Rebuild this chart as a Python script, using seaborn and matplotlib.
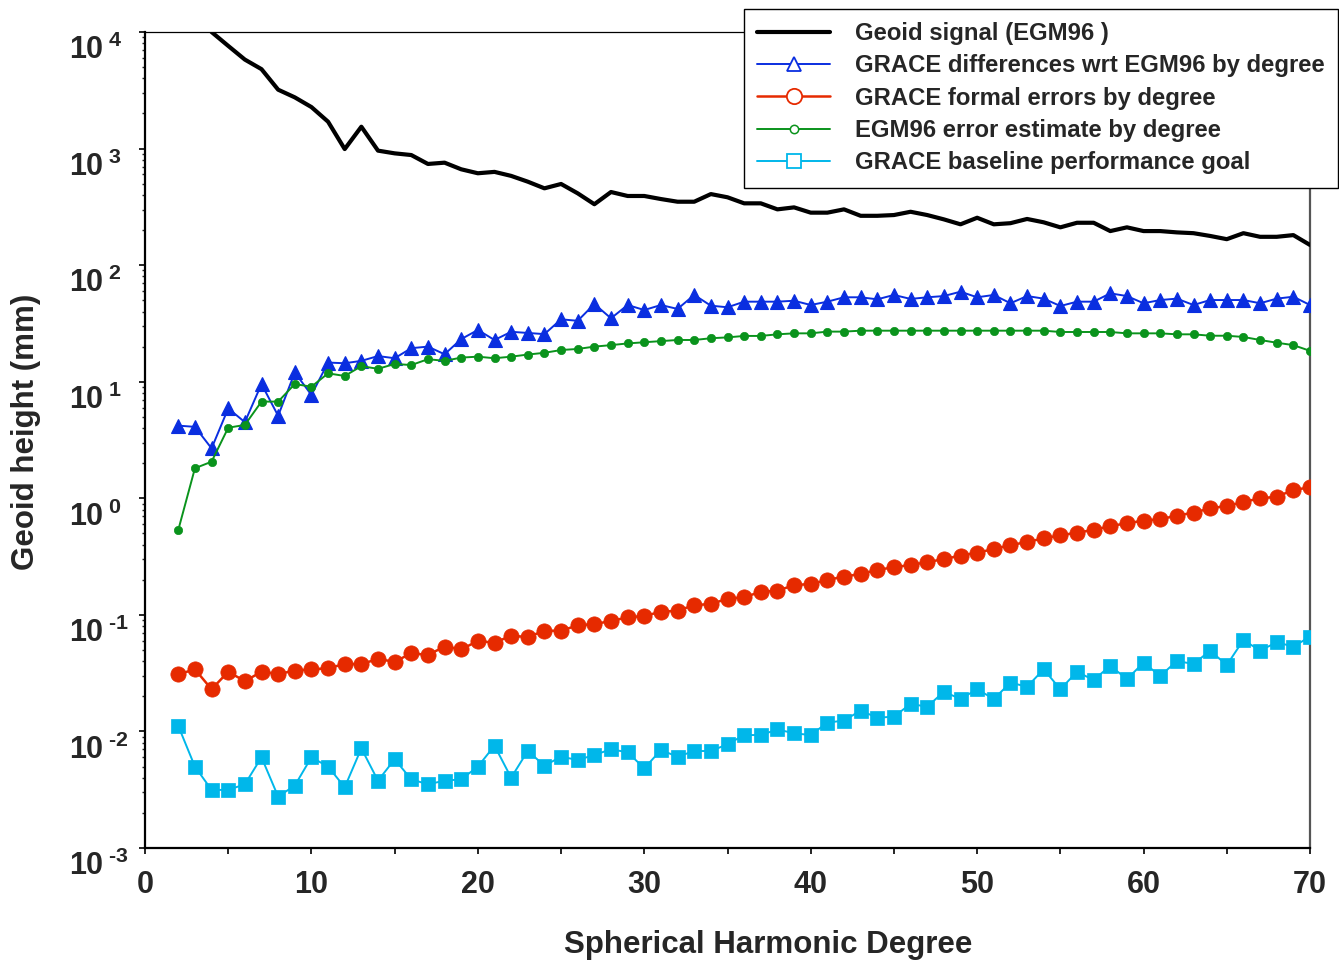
import numpy as np
import pandas as pd
import matplotlib
matplotlib.use("Agg")
import matplotlib.pyplot as plt
import matplotlib.transforms as mtransforms
from matplotlib.ticker import FixedLocator, LogLocator, NullFormatter, FuncFormatter
from matplotlib.lines import Line2D
import seaborn as sns

# spherical harmonic degree 2..70
degree = np.arange(2, 71)

geoid_signal = [
    30000, 18000, 10000, 7600, 5800, 4800, 3200, 2750, 2270,
    1700, 990, 1540, 960, 910, 880, 738, 757, 664, 614,
    631, 583, 520, 456, 497, 413, 333, 424, 392, 392,
    369, 350, 350, 407, 382, 339, 339, 301, 313, 282,
    282, 301, 265, 265, 269, 287, 269, 247, 224, 255,
    224, 229, 249, 233, 211, 231, 231, 196, 211, 196,
    196, 191, 188, 178, 167, 188, 175, 175, 181, 149,
]
grace_diff = [
    4.2, 4.1, 2.68, 5.9, 4.5, 9.55, 5.1, 12.0, 7.7,
    14.6, 14.4, 15.1, 16.6, 15.9, 19.4, 20.0, 17.2, 23.2, 27.8,
    22.8, 26.8, 26.2, 25.6, 34.3, 33.3, 46.4, 35.0, 45.5, 41.2,
    45.5, 42.1, 55.5, 44.9, 43.5, 48.6, 48.6, 48.6, 49.5, 45.5,
    48.6, 53.0, 53.0, 50.9, 55.5, 51.3, 53.0, 54.3, 59.2, 53.0,
    55.5, 47.1, 54.3, 51.6, 44.6, 48.6, 48.6, 57.3, 54.3, 47.1,
    50.2, 51.6, 45.5, 50.2, 50.2, 50.2, 47.1, 51.6, 53.6, 45.5,
]
grace_formal = [
    0.0309, 0.0341, 0.0230, 0.0325, 0.0270, 0.0325, 0.0311, 0.0332, 0.0341,
    0.0348, 0.0379, 0.0379, 0.0418, 0.0396, 0.0468, 0.0453, 0.0534, 0.0506, 0.0597,
    0.0577, 0.0662, 0.0645, 0.0731, 0.0731, 0.0813, 0.0834, 0.0885, 0.0953, 0.0977,
    0.1064, 0.1085, 0.1213, 0.1238, 0.1376, 0.1414, 0.158, 0.161, 0.180, 0.184,
    0.199, 0.213, 0.224, 0.243, 0.256, 0.268, 0.283, 0.301, 0.322, 0.341,
    0.367, 0.397, 0.421, 0.454, 0.481, 0.507, 0.535, 0.578, 0.610, 0.643,
    0.661, 0.710, 0.752, 0.820, 0.859, 0.929, 1.0, 1.03, 1.18, 1.24,
]
egm96_error = [
    0.535, 1.81, 2.06, 4.03, 4.26, 6.75, 6.75, 9.55, 9.06,
    11.8, 11.2, 13.6, 12.9, 14.2, 13.9, 15.6, 15.1, 16.1, 16.4,
    15.9, 16.4, 17.1, 17.7, 18.7, 19.1, 20.0, 20.6, 21.3, 21.8,
    22.3, 22.8, 22.8, 23.6, 24.0, 24.7, 24.7, 25.5, 26.0, 26.0,
    26.9, 26.9, 27.4, 27.4, 27.4, 27.4, 27.4, 27.4, 27.4, 27.4,
    27.4, 27.4, 27.4, 27.4, 26.7, 26.7, 26.7, 26.7, 26.0, 26.0,
    26.0, 25.5, 25.5, 24.8, 24.8, 24.2, 22.8, 21.6, 20.6, 18.4,
]
baseline_goal = [
    0.01114, 0.00499, 0.00315, 0.00315, 0.00352, 0.0060, 0.00276, 0.00343, 0.0060,
    0.00499, 0.00332, 0.00716, 0.00378, 0.00577, 0.00388, 0.00352, 0.00378, 0.00388, 0.00499,
    0.00755, 0.00401, 0.00681, 0.00508, 0.00607, 0.00569, 0.00628, 0.00703, 0.00662, 0.00483,
    0.00692, 0.00607, 0.00679, 0.00679, 0.00776, 0.00931, 0.00931, 0.0104, 0.00964, 0.00931,
    0.0119, 0.0124, 0.0151, 0.0131, 0.0134, 0.0172, 0.0163, 0.0219, 0.0190, 0.0230,
    0.0190, 0.0262, 0.0242, 0.0341, 0.0230, 0.0325, 0.0276, 0.0366, 0.0281, 0.0389,
    0.0299, 0.0402, 0.0379, 0.0493, 0.0371, 0.0609, 0.0493, 0.0582, 0.0534, 0.0650,
]

labels = [
    "Geoid signal (EGM96 )",
    "GRACE differences wrt EGM96 by degree",
    "GRACE formal errors by degree",
    "EGM96 error estimate by degree",
    "GRACE baseline performance goal",
]
x_ticks = [0, 10, 20, 30, 40, 50, 60, 70]
y_exponents = [-3, -2, -1, 0, 1, 2, 3, 4]

sns.set_style("ticks")
plt.rcParams["font.family"] = ["Liberation Sans", "DejaVu Sans"]
plt.rcParams["font.weight"] = "bold"
plt.rcParams["mathtext.fontset"] = "custom"
plt.rcParams["mathtext.rm"] = "Liberation Sans:bold"
plt.rcParams["mathtext.bf"] = "Liberation Sans:bold"
plt.rcParams["mathtext.it"] = "Liberation Sans:bold"

BLACK = "#000000"
BLUE = "#0a2ee0"
RED = "#e62a00"
GREEN = "#0a931c"
CYAN = "#00b7ea"


def exp_label(v, pos):
    e = int(round(np.log10(v)))
    if e < 0:
        return r"$\mathbf{10^{\;\text{-}%d}}$" % (-e)
    return r"$\mathbf{10^{\;%d}}$" % e


fig = plt.figure(figsize=(13.39, 9.6), dpi=100)
ax = fig.add_axes([145 / 1339, 1 - 848 / 960, 1165 / 1339, 816 / 960])

sns.lineplot(x=degree, y=geoid_signal, ax=ax, color=BLACK, lw=3.0, zorder=3)
sns.lineplot(x=degree, y=grace_diff, ax=ax, color=BLUE, lw=1.4, marker="^",
             markersize=10, markeredgecolor=BLUE, markeredgewidth=0.8, zorder=4)
sns.lineplot(x=degree, y=grace_formal, ax=ax, color=RED, lw=1.8, marker="o",
             markersize=11, markeredgecolor=RED, markeredgewidth=0.5, zorder=4)
sns.lineplot(x=degree, y=egm96_error, ax=ax, color=GREEN, lw=1.4, marker="o",
             markersize=6, markeredgecolor=GREEN, markeredgewidth=0.5, zorder=4)
sns.lineplot(x=degree, y=baseline_goal, ax=ax, color=CYAN, lw=1.4, marker="s",
             markersize=9.5, markeredgecolor=CYAN, markeredgewidth=0.5, zorder=4)

ax.set_yscale("log")
ax.set_xlim(0, 70)
ax.set_ylim(1e-3, 1e4)

ax.xaxis.set_major_locator(FixedLocator(x_ticks))
ax.xaxis.set_minor_locator(FixedLocator(np.arange(5, 70, 10)))
ax.yaxis.set_major_locator(FixedLocator([10.0 ** e for e in y_exponents]))
ax.yaxis.set_minor_locator(LogLocator(base=10, subs=np.arange(2, 10), numticks=20))
ax.yaxis.set_minor_formatter(NullFormatter())
ax.yaxis.set_major_formatter(FuncFormatter(exp_label))
ax.set_xticklabels([str(t) for t in x_ticks])

ax.tick_params(axis="x", which="both", direction="out", length=4, width=1.2,
               labelsize=22, pad=12, color=BLACK)
ax.tick_params(axis="y", which="major", direction="out", length=4, width=1.2,
               labelsize=22, pad=51, color=BLACK)
ax.tick_params(axis="y", which="minor", direction="out", length=2.5, width=1.0)

offset = mtransforms.ScaledTranslation(0, -0.03, fig.dpi_scale_trans)
for lab in ax.get_yticklabels():
    lab.set_horizontalalignment("left")
    lab.set_verticalalignment("top")
    lab.set_transform(lab.get_transform() + offset)

for side in ["left", "bottom"]:
    ax.spines[side].set_linewidth(1.6)
    ax.spines[side].set_color(BLACK)
ax.spines["top"].set_linewidth(0.9)
ax.spines["top"].set_color(BLACK)
ax.spines["right"].set_linewidth(1.6)
ax.spines["right"].set_color("#555555")

ax.set_xlabel("Spherical Harmonic Degree", fontsize=22.5, fontweight="bold")
ax.set_ylabel("Geoid height (mm)", fontsize=22.5, fontweight="bold")
ax.xaxis.set_label_coords(0.535, -0.10)
ax.yaxis.set_label_coords(-0.089, 0.51)

handles = [
    Line2D([], [], color=BLACK, lw=3.0),
    Line2D([], [], color=BLUE, lw=1.4, marker="^", markersize=10,
           markerfacecolor="white", markeredgecolor=BLUE, markeredgewidth=1.3),
    Line2D([], [], color=RED, lw=1.8, marker="o", markersize=11,
           markerfacecolor="white", markeredgecolor=RED, markeredgewidth=1.3),
    Line2D([], [], color=GREEN, lw=1.4, marker="o", markersize=6,
           markerfacecolor="white", markeredgecolor=GREEN, markeredgewidth=1.1),
    Line2D([], [], color=CYAN, lw=1.4, marker="s", markersize=9.5,
           markerfacecolor="white", markeredgecolor=CYAN, markeredgewidth=1.3),
]
leg = ax.legend(handles, labels, loc="upper right",
                bbox_to_anchor=(1338 / 1339, 1 - 9 / 960),
                bbox_transform=fig.transFigure, borderaxespad=0,
                prop={"size": 17.2, "weight": "bold"}, handlelength=3.05,
                handletextpad=1.05, labelspacing=0.39, borderpad=0.55,
                frameon=True, fancybox=False, framealpha=1, edgecolor=BLACK)
leg.get_frame().set_linewidth(1.0)
leg.set_zorder(10)

fig.savefig("out.png", dpi=100)
